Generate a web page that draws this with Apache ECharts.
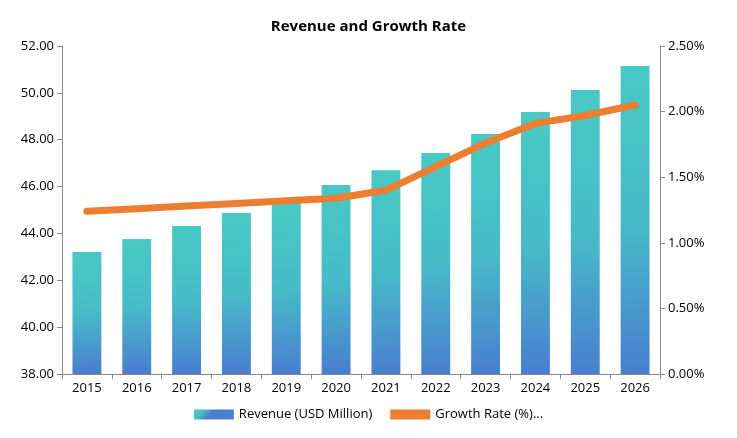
<!DOCTYPE html>
<html>
<head>
<meta charset="utf-8">
<script src="https://cdn.jsdelivr.net/npm/echarts@6/dist/echarts.min.js"></script>
<style>html,body{margin:0;padding:0;background:#fff}#chart{width:737px;height:438px}</style>
</head>
<body>
<div id="chart"></div>
<script>
var years = ['2015','2016','2017','2018','2019','2020','2021','2022','2023','2024','2025','2026'];
var revenue = [43.21, 43.76, 44.32, 44.87, 45.3, 46.07, 46.7, 47.43, 48.24, 49.18, 50.12, 51.15];
var growth = [1.24, 1.26, 1.28, 1.30, 1.32, 1.34, 1.40, 1.58, 1.76, 1.91, 1.97, 2.05];

var myChart = echarts.init(document.getElementById('chart'));
var axisStyle = {
    axisLine: {show: true, lineStyle: {color: '#888'}},
    axisTick: {show: true, lineStyle: {color: '#888'}},
    axisLabel: {color: '#000', fontSize: 13, fontFamily: 'Open Sans'}
};
var option = {
    title: {
        text: 'Revenue and Growth Rate',
        left: 'center',
        top: 14,
        textStyle: {fontSize: 15, fontWeight: 'bold', color: '#000', fontFamily: 'Open Sans'}
    },
    grid: {left: 62, right: 77, top: 46, bottom: 64},
    legend: {
        bottom: 12,
        itemGap: 18,
        textStyle: {fontSize: 13, color: '#000', fontFamily: 'Open Sans'},
        data: [{name: 'Revenue (USD Million)', icon: 'rect'}, {name: 'Growth Rate (%)...', icon: 'rect'}],
        itemWidth: 40, itemHeight: 10
    },
    xAxis: {
        type: 'category',
        data: years,
        axisLine: axisStyle.axisLine,
        axisTick: {show: true, alignWithLabel: false, lineStyle: {color: '#888'}},
        axisLabel: axisStyle.axisLabel
    },
    yAxis: [{
        type: 'value', min: 38, max: 52, interval: 2,
        axisLine: axisStyle.axisLine, axisTick: axisStyle.axisTick,
        axisLabel: {color: '#000', fontSize: 13, fontFamily: 'Open Sans', formatter: function(v){return v.toFixed(2);}},
        splitLine: {show: false}
    }, {
        type: 'value', min: 0, max: 2.5, interval: 0.5, position: 'right',
        axisLine: axisStyle.axisLine, axisTick: axisStyle.axisTick,
        axisLabel: {color: '#000', fontSize: 13, fontFamily: 'Open Sans', formatter: function(v){return v.toFixed(2) + '%';}},
        splitLine: {show: false}
    }],
    series: [{
        name: 'Revenue (USD Million)',
        type: 'bar',
        barWidth: '58%',
        data: revenue,
        itemStyle: {
            color: new echarts.graphic.LinearGradient(0, 0, 0.3, 1, [
                {offset: 0, color: '#48C9C4'},
                {offset: 0.5, color: '#47BCC8'},
                {offset: 1, color: '#4A7ED0'}
            ])
        }
    }, {
        name: 'Growth Rate (%)...',
        type: 'line',
        yAxisIndex: 1,
        data: growth,
        symbol: 'none',
        lineStyle: {color: '#ED7D31', width: 7, cap: 'round', join: 'round'},
        itemStyle: {color: '#ED7D31'}
    }]
};
myChart.setOption(option, true);
</script>
</body>
</html>
